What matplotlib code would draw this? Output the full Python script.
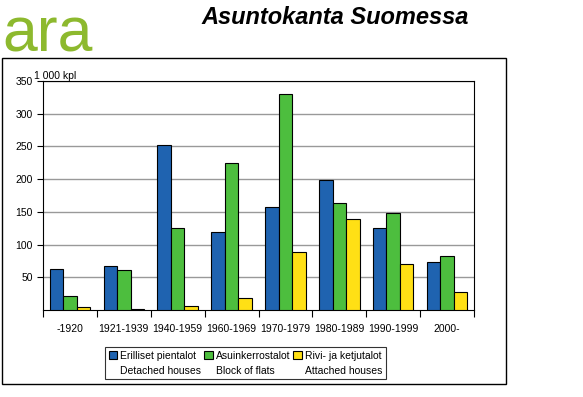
import numpy as np
import matplotlib.pyplot as plt
from matplotlib.patches import Rectangle

# data (1 000 dwellings)
periods = ['-1920', '1921-1939', '1940-1959', '1960-1969', '1970-1979',
           '1980-1989', '1990-1999', '2000-']
detached = [62, 68, 252, 119, 158, 198, 125, 73]
flats = [22, 61, 125, 225, 330, 163, 148, 82]
attached = [4, 2, 6, 18, 88, 139, 71, 28]

labels = ['Erilliset pientalot\nDetached houses',
          'Asuinkerrostalot\nBlock of flats',
          'Rivi- ja ketjutalot\nAttached houses']
colors = ['#1F63B0', '#4DBE3E', '#FFE015']

plt.rcParams['font.family'] = ['Liberation Sans', 'DejaVu Sans']

fig = plt.figure(figsize=(5.83, 3.97), dpi=100)
W, H = 583, 397

# outer frame
fig.add_artist(Rectangle((2 / W, 1 - 384 / H), 504 / W, 326 / H,
                         transform=fig.transFigure, fill=False,
                         edgecolor='black', linewidth=1))

# logo and title
fig.text(2 / W, 1 - 52 / H, 'ara', color='#8DB92E', fontsize=45,
         ha='left', va='baseline')
fig.text(335 / W, 1 - 18 / H, 'Asuntokanta Suomessa', fontsize=17,
         fontweight='bold', fontstyle='italic', ha='center', va='center')

ax = fig.add_axes([43 / W, 1 - 310 / H, 431 / W, 229 / H])
x = np.arange(len(periods))
w = 0.25
series = [detached, flats, attached]
for i, vals in enumerate(series):
    ax.bar(x + (i - 1) * w, vals, w, color=colors[i], edgecolor='black',
           linewidth=0.8, label=labels[i], zorder=3)

ax.set_xlim(-0.5, len(periods) - 0.5)
ax.set_ylim(0, 350)
ax.set_yticks([50, 100, 150, 200, 250, 300, 350])
ax.yaxis.grid(True, color='#999999', linewidth=1, zorder=0)
ax.set_xticks(x)
ax.set_xticklabels(periods)
ax.tick_params(axis='x', length=0, labelsize=7.5, pad=10)
ax.set_xticks(np.arange(len(periods) + 1) - 0.5, minor=True)
ax.tick_params(axis='x', which='minor', length=5, width=0.8, direction='out')
ax.tick_params(axis='y', labelsize=7.5, length=4, width=0.8)
for s in ax.spines.values():
    s.set_linewidth(0.8)
ax.text(-0.02, 1.0, '1 000 kpl', transform=ax.transAxes, fontsize=7.5,
        ha='left', va='bottom')

leg = ax.legend(loc='upper center', bbox_to_anchor=(0.47, -0.14), ncol=3,
                fontsize=7.5, frameon=True, fancybox=False, edgecolor='black',
                handlelength=0.8, handleheight=0.8, handletextpad=0.3,
                columnspacing=0.3, borderpad=0.35)
leg.get_frame().set_linewidth(0.8)
for t in leg.get_texts():
    t.set_linespacing(1.6)
# put the colour boxes level with the first line of each label
for p in leg.legend_handles:
    p.set_y(p.get_y() + 6)

fig.savefig('out.png', dpi=100)
